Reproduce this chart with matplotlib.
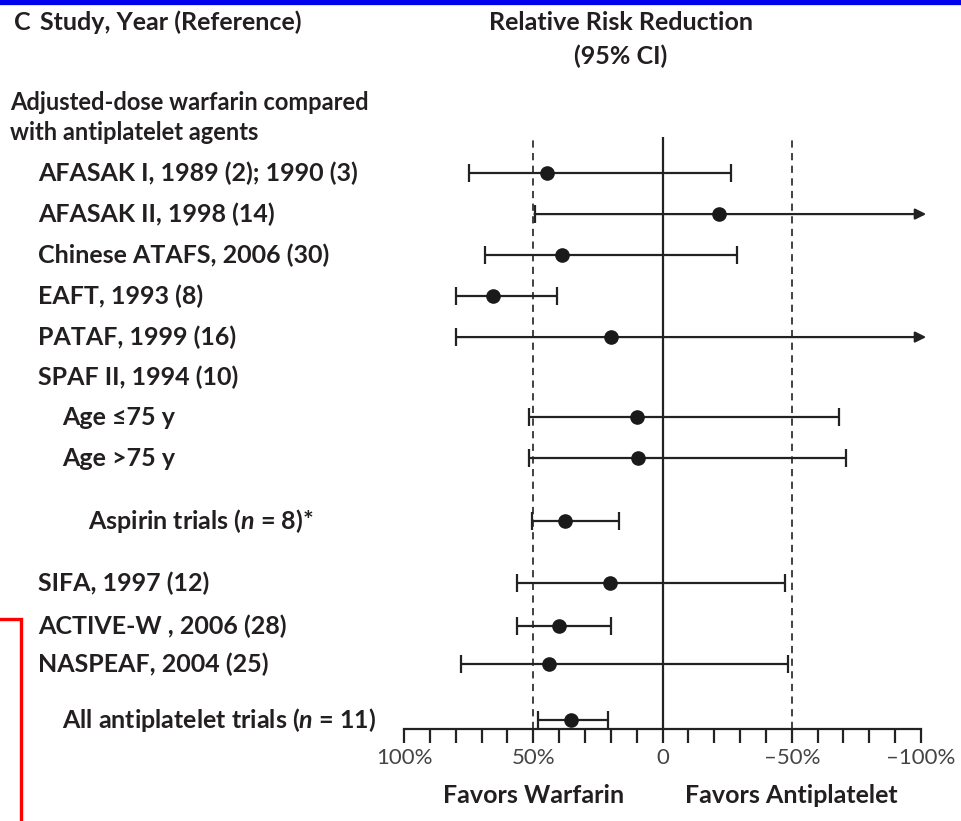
import matplotlib
matplotlib.use("Agg")
import matplotlib.pyplot as plt
import matplotlib.transforms as mtransforms
from matplotlib.lines import Line2D
import numpy as np

plt.rcParams['font.family'] = ['Lato', 'DejaVu Sans']
plt.rcParams['mathtext.fontset'] = 'custom'
plt.rcParams['mathtext.it'] = 'Lato:italic:bold'
plt.rcParams['mathtext.rm'] = 'Lato:bold'

# Relative risk reduction (%), point estimate and 95% CI
# ci_left is the bound toward 100% (favors warfarin), ci_right toward -100%
studies = ['AFASAK I, 1989 (2); 1990 (3)', 'AFASAK II, 1998 (14)',
           'Chinese ATAFS, 2006 (30)', 'EAFT, 1993 (8)', 'PATAF, 1999 (16)',
           'Age \u226475 y', 'Age >75 y', 'Aspirin trials ($n$ = 8)*',
           'SIFA, 1997 (12)', 'ACTIVE-W , 2006 (28)', 'NASPEAF, 2004 (25)',
           'All antiplatelet trials ($n$ = 11)']
rrr = [44.5, -22, 39, 65.5, 20, 10, 9.5, 37.6, 20.4, 40.2, 44.1, 35.3]
ci_left = [75, 49.5, 68.5, 79.7, 79.7, 51.5, 51.5, 50.4, 56.3, 56.3, 78, 48.1]
ci_right = [-26.6, None, -29, 41, None, -68.4, -70.8, 16.9, -47.4, 20, -48.6, 21.1]

tick_vals = [100, 50, 0, -50, -100]
tick_text = ['100%', '50%', '0', '\u201350%', '\u2013100%']

# layout: row slot for each study, label indent in pixels
row_y = [0, 1, 2, 3, 4, 5.95, 6.95, 8.49, 10, 11.05, 11.98, 13.34]
label_x = [38, 38, 38, 38, 38, 62, 62, 88, 38, 38, 38, 62]

W, H = 961, 821
fig = plt.figure(figsize=(W / 100, H / 100), dpi=100)
ax = fig.add_axes([404 / W, 1 - 729 / H, (921 - 404) / W, (729 - 137) / H])

txt = '#231f20'
ink = '#222222'
fs = 18

ax.set_xlim(100, -100)
ax.set_ylim(13.56, -0.88)

for s in ['top', 'right', 'left']:
    ax.spines[s].set_visible(False)
ax.spines['bottom'].set_linewidth(1.6)
ax.spines['bottom'].set_color(ink)
ax.set_yticks([])
ax.set_xticks(np.arange(-100, 101, 10), minor=True)
ax.set_xticks(tick_vals)
ax.set_xticklabels(tick_text)
ax.tick_params(axis='x', which='both', direction='out', length=10, width=1.6,
               color=ink, labelsize=16, labelcolor='#444444', pad=4)

ax.axvline(0, color=ink, lw=1.6)
for v in (50, -50):
    ax.axvline(v, color='#333333', lw=1.3, ls=(0, (4, 3)))

for i in range(len(studies)):
    y = row_y[i]
    if ci_right[i] is None:
        # upper bound runs off the scale: draw an arrow to the edge
        ax.annotate('', xy=(-102, y), xytext=(ci_left[i], y),
                    arrowprops=dict(arrowstyle='-|>', color=ink, lw=1.6,
                                    mutation_scale=16, shrinkA=0, shrinkB=0),
                    annotation_clip=False)
        ax.plot([ci_left[i]], [y], marker='|', ms=12.5, mew=1.6,
                color=ink, ls='none')
    else:
        ax.errorbar(rrr[i], y, xerr=[[rrr[i] - ci_right[i]], [ci_left[i] - rrr[i]]],
                    fmt='none', ecolor=ink, elinewidth=1.6, capsize=6.5,
                    capthick=1.6, clip_on=False)
    ax.plot(rrr[i], y, 'o', color='#1a1a1a', ms=9.5, zorder=5, clip_on=False)

# study labels on the left
lab_tr = mtransforms.blended_transform_factory(fig.transFigure, ax.transData)
for i, name in enumerate(studies):
    ax.text(label_x[i] / W, row_y[i], name, transform=lab_tr, ha='left',
            va='center', fontsize=fs, fontweight='bold', color=txt)
ax.text(38 / W, 4.98, 'SPAF II, 1994 (10)', transform=lab_tr, ha='left',
        va='center', fontsize=fs, fontweight='bold', color=txt)
ax.text(10 / W, -1.73, 'Adjusted-dose warfarin compared', transform=lab_tr,
        ha='left', va='center', fontsize=17, fontweight='bold', color=txt)
ax.text(10 / W, -1.0, 'with antiplatelet agents', transform=lab_tr,
        ha='left', va='center', fontsize=17, fontweight='bold', color=txt)

# headers
fig.text(14 / W, 1 - 22 / H, 'C', ha='left', va='center', fontsize=fs,
         fontweight='bold', color=txt)
fig.text(40 / W, 1 - 22 / H, 'Study, Year (Reference)', ha='left', va='center',
         fontsize=fs, fontweight='bold', color=txt)
fig.text(621 / W, 1 - 22 / H, 'Relative Risk Reduction', ha='center',
         va='center', fontsize=fs, fontweight='bold', color=txt)
fig.text(621 / W, 1 - 56 / H, '(95% CI)', ha='center', va='center',
         fontsize=fs, fontweight='bold', color=txt)

# favors labels under the axis
fav_tr = mtransforms.blended_transform_factory(ax.transData, fig.transFigure)
ax.text(50, 1 - 795 / H, 'Favors Warfarin', transform=fav_tr, ha='center',
        va='center', fontsize=fs, fontweight='bold', color=txt)
ax.text(-50, 1 - 795 / H, 'Favors Antiplatelet', transform=fav_tr, ha='center',
        va='center', fontsize=fs, fontweight='bold', color=txt)

# blue rule on top, red bracket on the left
fig.add_artist(Line2D([0, 1], [1 - 2.5 / H, 1 - 2.5 / H], color='#0000ee',
                      lw=3.8, transform=fig.transFigure))
fig.add_artist(Line2D([0, 21 / W, 21 / W], [1 - 619 / H, 1 - 619 / H, 0],
                      color='#ff0000', lw=2.4, solid_joinstyle='miter',
                      transform=fig.transFigure))

fig.savefig('out.png', dpi=100)
